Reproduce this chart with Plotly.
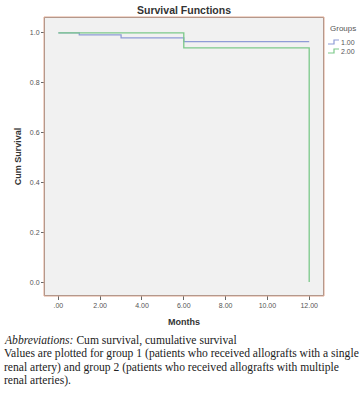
import plotly.graph_objects as go

# Kaplan-Meier step data
g1_months = [0, 1, 3, 6, 12]
g1_surv = [1.0, 0.992, 0.98, 0.965, 0.965]
g2_months = [0, 6, 12, 12]
g2_surv = [1.0, 0.94, 0.94, 0.0]

group_names = ["1.00", "2.00"]
group_colors = ["#8E9CD6", "#7CC98A"]

x_tickvals = [0, 2, 4, 6, 8, 10, 12]
x_ticktext = [".00", "2.00", "4.00", "6.00", "8.00", "10.00", "12.00"]
y_tickvals = [0.0, 0.2, 0.4, 0.6, 0.8, 1.0]
y_ticktext = ["0.0", "0.2", "0.4", "0.6", "0.8", "1.0"]

caption_lines = [
    "<i>Abbreviations:</i> Cum survival, cumulative survival",
    "Values are plotted for group 1 (patients who received allografts with a single",
    "renal artery) and group 2 (patients who received allografts with multiple",
    "renal arteries).",
]

W, H = 364, 396
px0, px1, py0, py1 = 45, 323, 18, 295

fig = go.Figure()
fig.add_trace(go.Scatter(x=g1_months, y=g1_surv, mode="lines",
                         line=dict(shape="hv", color=group_colors[0], width=1.3), name=group_names[0]))
fig.add_trace(go.Scatter(x=g2_months, y=g2_surv, mode="lines",
                         line=dict(shape="hv", color=group_colors[1], width=1.3), name=group_names[1]))

tickfont = dict(family="Liberation Sans, Arial", size=7, color="#555555")
fig.update_layout(
    width=W, height=H,
    margin=dict(l=0, r=0, t=0, b=0, autoexpand=False),
    paper_bgcolor="white",
    plot_bgcolor="#F1F1F1",
    showlegend=False,
    title=dict(text="<b>Survival Functions</b>", x=(px0 + px1) / 2 / W, xanchor="center",
               y=1 - 10 / H, yanchor="middle",
               font=dict(family="Liberation Sans, Arial", size=10.5, color="#333333")),
    xaxis=dict(domain=[px0 / W, px1 / W], range=[-0.64, 12.66], tickvals=x_tickvals, ticktext=x_ticktext,
               showgrid=False, zeroline=False, showline=True, linecolor="#888888", linewidth=1,
               ticks="outside", ticklen=4, tickcolor="#666666", tickfont=tickfont, mirror=True,
               automargin=False,
               title=dict(text="<b>Months</b>", font=dict(family="Liberation Sans, Arial", size=9, color="#333333"),
                          standoff=10)),
    yaxis=dict(domain=[1 - py1 / H, 1 - py0 / H], range=[-0.052, 1.06], tickvals=y_tickvals, ticktext=y_ticktext,
               showgrid=False, zeroline=False, showline=True, linecolor="#888888", linewidth=1,
               ticks="outside", ticklen=3, tickcolor="#666666", tickfont=tickfont, mirror=True,
               automargin=False,
               title=dict(text="<b>Cum Survival</b>", font=dict(family="Liberation Sans, Arial", size=9, color="#333333"),
                          standoff=6)),
)

# outer salmon frame around plot area
fig.add_shape(type="rect", xref="paper", yref="paper", x0=(px0 - 1) / W, x1=(px1 + 1) / W,
              y0=1 - (py1 + 1) / H, y1=1 - (py0 - 1) / H, line=dict(color="#E0A890", width=1), layer="above")

# manual legend
lx = 328
fig.add_annotation(text="Groups", xref="paper", yref="paper", x=lx / W, y=1 - 28 / H, xanchor="left",
                   yanchor="middle", showarrow=False,
                   font=dict(family="Liberation Sans, Arial", size=8, color="#555555"))
for i, (nm, col) in enumerate(zip(group_names, group_colors)):
    yy = 42 + i * 9
    pts_x = [lx, lx + 6, lx + 6, lx + 11]
    pts_y = [yy + 2, yy + 2, yy - 2, yy - 2]
    path = "M " + " L ".join(f"{x / W},{1 - y / H}" for x, y in zip(pts_x, pts_y))
    fig.add_shape(type="path", xref="paper", yref="paper", path=path, line=dict(color=col, width=1.2))
    fig.add_annotation(text=nm, xref="paper", yref="paper", x=(lx + 11) / W, y=1 - yy / H, xanchor="left",
                       yanchor="middle", showarrow=False,
                       font=dict(family="Liberation Sans, Arial", size=7, color="#555555"))

cap_y = [340, 353, 367, 380]
for txt, yy in zip(caption_lines, cap_y):
    fig.add_annotation(text=txt, xref="paper", yref="paper", x=2 / W, y=1 - yy / H, xanchor="left",
                       yanchor="middle", showarrow=False,
                       font=dict(family="Liberation Serif, Times New Roman", size=11.6, color="#222222"))

fig.write_html("out.html", config={"displayModeBar": False},
               post_script="document.body.style.margin='0';document.body.style.overflow='hidden';")
